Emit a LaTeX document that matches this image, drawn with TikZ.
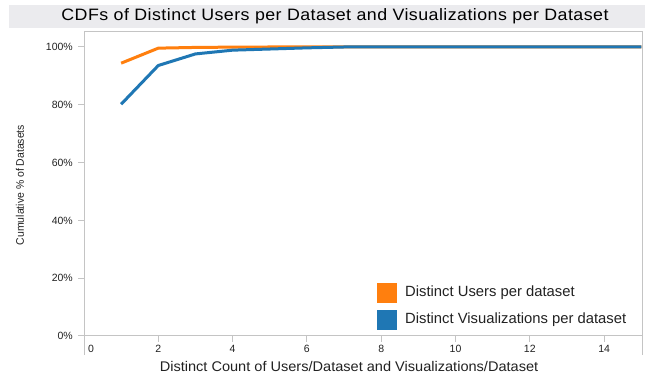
\documentclass[tikz,border=0pt]{standalone}
\usepackage{fontspec}
\setmainfont{Liberation Sans}
\newfontfamily\narrowfont[FakeStretch=0.95]{Liberation Sans}
\newfontfamily\titlefont[FakeStretch=1.08,LetterSpace=2.7]{Liberation Sans}
\newfontfamily\wideaxfont[FakeStretch=1.04]{Liberation Sans}
\definecolor{orangeline}{HTML}{FF7F0E}
\definecolor{blueline}{HTML}{1F77B4}
\definecolor{bandgray}{HTML}{EBEBEE}
\definecolor{framegray}{HTML}{C4C4C4}
\definecolor{textgray}{HTML}{222222}
\tikzset{
  ticklabel/.style={font=\fontsize{10.5}{12}\selectfont, text=textgray, inner sep=0pt},
  axtitle/.style={font=\wideaxfont\fontsize{14}{16}\selectfont, text=textgray, inner sep=0pt},
  legtext/.style={font=\fontsize{14.8}{17}\selectfont, text=textgray, inner sep=0pt, anchor=west},
  curve/.style={line width=3pt, line join=round},
  gridline/.style={draw=framegray, line width=1pt}
}
\begin{document}
\begin{tikzpicture}[x=1pt,y=1pt]
\useasboundingbox (0,0) rectangle (645,379);
\fill[white] (0,0) rectangle (645,379);
\fill[bandgray] (9,351) rectangle (645,374);
\node[font=\titlefont\fontsize{16.5}{19}\selectfont, text=black, inner sep=0pt] (title) at (335,362.5) {CDFs of Distinct Users per Dataset and Visualizations per Dataset};
% frame
\draw[gridline] (84,24) -- (84,347) -- (642,347) -- (642,24);
\draw[gridline] (78,43) -- (642,43);
% y ticks
\foreach \p/\lab in {0/0\%,20/20\%,40/40\%,60/60\%,80/80\%,100/100\%} {
  \draw[gridline] (78,43+2.89*\p) -- (84,43+2.89*\p);
  \node[ticklabel, anchor=east] (ytick\p) at (73,43+2.89*\p) {\lab};
}
% x ticks
\node[ticklabel, anchor=west] (xtick0) at (88,30) {0};
\foreach \v in {2,4,...,14} {
  \draw[gridline] (84+37.15*\v,43) -- (84+37.15*\v,37);
  \node[ticklabel] (xtick\v) at (84+37.15*\v,30) {\v};
}
% axis titles
\node[axtitle] (xtitle) at (349,12) {Distinct Count of Users/Dataset and Visualizations/Dataset};
\node[font=\narrowfont\fontsize{11}{13}\selectfont, text=textgray, inner sep=0pt, rotate=90] (ytitle) at (20,194) {Cumulative \% of Datasets};
% curves
\begin{scope}[shift={(84,43)}, x=37.15pt, y=2.89pt]
  \draw[curve, orangeline] (1,94.4) -- (2,99.6) -- (3,99.85) -- (4,99.95) -- (5,100) -- (7,100) -- (15,100);
  \draw[curve, blueline] (1,80.2) -- (2,93.6) -- (3,97.6) -- (4,98.9) -- (5,99.3) -- (6,99.7) -- (7,100) -- (15,100);
\end{scope}
% legend
\fill[orangeline] (377,76) rectangle (397,96);
\node[legtext] (leg1) at (405,86) {Distinct Users per dataset};
\fill[blueline] (377,49) rectangle (397,69);
\node[legtext] (leg2) at (405,59) {Distinct Visualizations per dataset};
\end{tikzpicture}
\end{document}
